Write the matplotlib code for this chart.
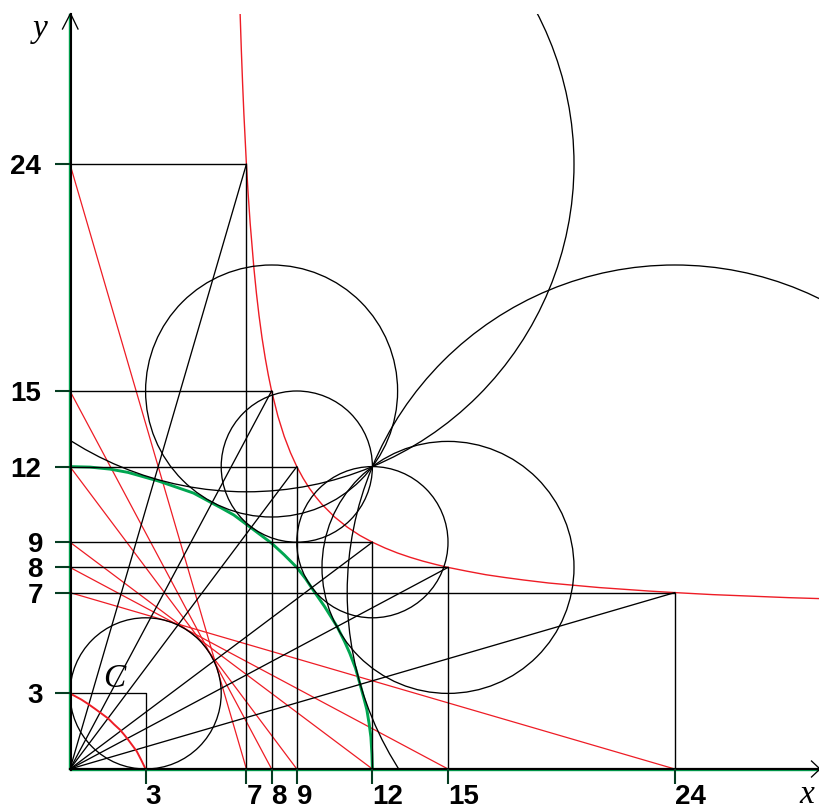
import matplotlib
matplotlib.use('Agg')
import matplotlib.pyplot as plt
from matplotlib.patches import Circle, Rectangle

# points on the hyperbola, from the rectangles in the picture
a_values = [7, 8, 9, 12, 15, 24]
b_values = [24, 15, 12, 9, 8, 7]
radii = [13, 5, 3, 3, 5, 13]

# small circle C and the little square
c_center = 3
c_radius = 3

# small red arc inside the square
arc_x = [0, 0.22, 0.46, 0.72, 0.99, 1.25, 1.52, 1.75, 1.98, 2.15, 2.31, 2.48, 2.65, 2.82, 3]
arc_y = [3, 2.88, 2.75, 2.58, 2.39, 2.2, 2.0, 1.77, 1.56, 1.36, 1.16, 0.93, 0.7, 0.37, 0]

# red curve
hyper_x = [6.75, 6.8, 6.85, 6.9, 7, 7.07, 7.15, 7.3, 7.4, 7.5, 7.62, 7.75, 7.87, 8, 8.25,
           8.5, 8.75, 9, 9.25, 9.5, 9.75, 10, 10.5, 11, 11.5, 12, 12.5, 13, 13.5, 14,
           14.5, 15, 15.75, 16.5, 17.25, 18, 19, 20, 21, 22, 23, 24, 25.5, 27, 28.5, 29.8]
hyper_y = [30, 28.5, 27.18, 26, 24, 22.82, 21.65, 19.85, 18.86, 18, 17.11, 16.29, 15.63, 15, 14,
           13.2, 12.55, 12, 11.54, 11.14, 10.8, 10.5, 10, 9.6, 9.27, 9, 8.77, 8.57, 8.4, 8.25,
           8.12, 8, 7.85, 7.71, 7.6, 7.5, 7.38, 7.29, 7.2, 7.13, 7.06, 7, 6.92, 6.86, 6.8, 6.76]

# green curve
green_x = [0, 0.8, 1.59, 2.3, 2.9, 3.5, 3.97, 4.9, 5.55, 6, 6.5, 7.2, 8, 8.5, 9, 9.35, 9.65,
           10.1, 10.6, 10.9, 11.1, 11.33, 11.5, 11.65, 11.78, 11.87, 11.94, 11.98, 12]
green_y = [12, 11.98, 11.9, 11.77, 11.6, 11.43, 11.27, 10.95, 10.6, 10.36, 10.08, 9.56, 8.96, 8.5, 8,
           7.55, 7.1, 6.45, 5.65, 5.05, 4.6, 4, 3.4, 2.85, 2.35, 1.8, 1.27, 0.6, 0]

x_ticks = [3, 7, 8, 9, 12, 15, 24]
y_ticks = [3, 7, 8, 9, 12, 15, 24]

RED = '#ee1c25'
GREEN = '#00a651'
DARK = '#063d22'
UNIT = 25.2  # pixels per unit

fig = plt.figure(figsize=(8.2, 8.1), dpi=100)
ax = fig.add_axes([0, 0, 1, 1])
ax.set_xlim(-70 / UNIT, 750 / UNIT)
ax.set_ylim(-41 / UNIT, 769 / UNIT)
ax.axis('off')

clip = Rectangle((0, 0), 750 / UNIT, 755 / UNIT, transform=ax.transData)

# red lines between the axes
for a, b in zip(a_values, b_values):
    ax.plot([0, a], [b, 0], color=RED, lw=0.9, zorder=2)

curve, = ax.plot(hyper_x, hyper_y, color=RED, lw=1.0, zorder=3)
curve.set_clip_path(clip)

ax.plot(green_x, green_y, color=GREEN, lw=2.1, zorder=3, solid_capstyle='butt')

# rectangles and diagonals
for a, b in zip(a_values, b_values):
    ax.plot([0, a, a], [b, b, 0], color='black', lw=1.0, zorder=4)
    ax.plot([0, a], [0, b], color='black', lw=0.95, zorder=4)
ax.plot([0, c_center, c_center], [c_center, c_center, 0], color='black', lw=0.95, zorder=4)

# circles, cut off at the axes and the top of the drawing
for a, b, r in zip(a_values, b_values, radii):
    circle = Circle((a, b), r, fill=False, edgecolor='black', lw=0.95, zorder=4)
    ax.add_patch(circle)
    circle.set_clip_path(clip)
ax.add_patch(Circle((c_center, c_center), c_radius, fill=False, edgecolor='black', lw=0.95, zorder=4))

ax.plot(arc_x, arc_y, color=RED, lw=1.4, zorder=5)

# axes, green line just beside the black one
top = 755 / UNIT
right = 750 / UNIT
ax.plot([-0.02, -0.02], [0, top], color=GREEN, lw=1.0, zorder=5)
ax.plot([0, right], [-0.05, -0.05], color=GREEN, lw=1.0, zorder=5)
ax.plot([0.04, 0.04], [-0.03, top], color='black', lw=1.5, zorder=6)
ax.plot([0, right], [0.01, 0.01], color='black', lw=1.6, zorder=6)

# arrow heads
ax.plot([-7.5 / UNIT, 0.02, 8 / UNIT], [top - 15 / UNIT, top + 0.02, top - 15 / UNIT],
        color='black', lw=0.95, zorder=6)
ax.plot([right - 8.5 / UNIT, right, right - 8.5 / UNIT], [8 / UNIT, 0, -8 / UNIT],
        color='black', lw=0.95, zorder=6, clip_on=False)

# ticks and their labels
font = {'family': 'Liberation Sans', 'weight': 'bold', 'fontsize': 20}
for t in x_ticks:
    ax.plot([t, t], [0, -15 / UNIT], color=DARK, lw=1.5, zorder=6, solid_capstyle='butt')
    ax.annotate(str(t), (t, 0), xytext=(0, -35), textcoords='offset pixels',
                ha='left', va='baseline', **font)
for t in y_ticks:
    ax.plot([-15 / UNIT, 0], [t, t], color=DARK, lw=1.5, zorder=6, solid_capstyle='butt')
    shift = -29 if t >= 10 else -27
    ax.annotate(str(t), (0, t), xytext=(shift, -10), textcoords='offset pixels',
                ha='right', va='baseline', **font)

serif = {'family': 'Liberation Serif', 'style': 'italic', 'fontsize': 24}
ax.text(-37 / UNIT, 732 / UNIT, 'y', ha='left', va='baseline', **serif)
ax.text(729 / UNIT, -34 / UNIT, 'x', ha='left', va='baseline', **serif)
ax.text(33 / UNIT, 82 / UNIT, 'C', ha='left', va='baseline', **serif)

fig.savefig('out.png', dpi=100)
